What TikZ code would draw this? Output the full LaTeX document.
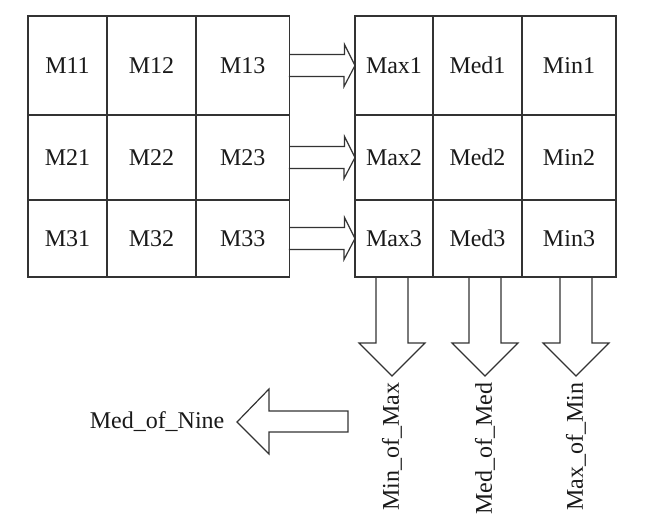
\documentclass[tikz,border=0pt]{standalone}
\usepackage{fontspec}
\setmainfont{Liberation Serif}
\begin{document}
\begin{tikzpicture}[x=0.5pt,y=-0.5pt,line width=0.6pt,draw=black!80,
    every node/.style={font=\fontsize{12}{14}\selectfont,text=black!90},
    grid/.style={draw=black!80,inner sep=0pt,outer sep=0pt},
    blockarrow/.style={draw=black!80,line join=miter}]
      \useasboundingbox (0,0) rectangle (650,527);

      % input window
      \node[grid,minimum width=130.75pt,minimum height=130.5pt] (left) at (158.75,146.5) {};
      \draw (107,16) -- (107,277);
      \draw (196,16) -- (196,277);
      \draw (28,115) -- (289.5,115);
      \draw (28,200) -- (289.5,200);
      \node (m11) at (67.5,65.5) {M11};
      \node (m12) at (151.5,65.5) {M12};
      \node (m13) at (242.75,65.5) {M13};
      \node (m21) at (67.5,157.5) {M21};
      \node (m22) at (151.5,157.5) {M22};
      \node (m23) at (242.75,157.5) {M23};
      \node (m31) at (67.5,238.5) {M31};
      \node (m32) at (151.5,238.5) {M32};
      \node (m33) at (242.75,238.5) {M33};

      % sorted rows
      \node[grid,minimum width=130.5pt,minimum height=130.5pt] (right) at (485.5,146.5) {};
      \draw (433,16) -- (433,277);
      \draw (522,16) -- (522,277);
      \draw (355,115) -- (616,115);
      \draw (355,200) -- (616,200);
      \node (max1) at (394,65.5) {Max1};
      \node (med1) at (477.5,65.5) {Med1};
      \node (min1) at (569,65.5) {Min1};
      \node (max2) at (394,157.5) {Max2};
      \node (med2) at (477.5,157.5) {Med2};
      \node (min2) at (569,157.5) {Min2};
      \node (max3) at (394,238.5) {Max3};
      \node (med3) at (477.5,238.5) {Med3};
      \node (min3) at (569,238.5) {Min3};

      \foreach \a/\b in {m13/max1,m23/max2,m33/max3}
        \draw[blockarrow] (left.east |- \a) ++(0,-11) -- ++(55,0) -- ++(0,-10) -- (right.west |- \b)
          -- ++(-11,21) -- ++(0,-10) -- ++(-55,0);

      % column results
      \node[rotate=90,anchor=east,inner xsep=3pt] (minmax) at (392,376) {Min\_of\_Max};
      \node[rotate=90,anchor=east,inner xsep=3pt] (medmed) at (485,376) {Med\_of\_Med};
      \node[rotate=90,anchor=east,inner xsep=3pt] (maxmin) at (576,376) {Max\_of\_Min};

      \foreach \lbl in {minmax,medmed,maxmin}
        \draw[blockarrow] (right.south -| \lbl.east) ++(-16,0) -- ++(0,66) -- ++(-17,0) -- (\lbl.east)
          -- ++(33,-33) -- ++(-17,0) -- ++(0,-66);

      \node[anchor=east,inner xsep=6pt] (nine) at (237,422) {Med\_of\_Nine};
      \draw[blockarrow] (nine.east) -- ++(32,-33) -- ++(0,22) -- ++(79,0) -- ++(0,21) -- ++(-79,0) -- ++(0,22) -- cycle;
    \end{tikzpicture}
\end{document}
